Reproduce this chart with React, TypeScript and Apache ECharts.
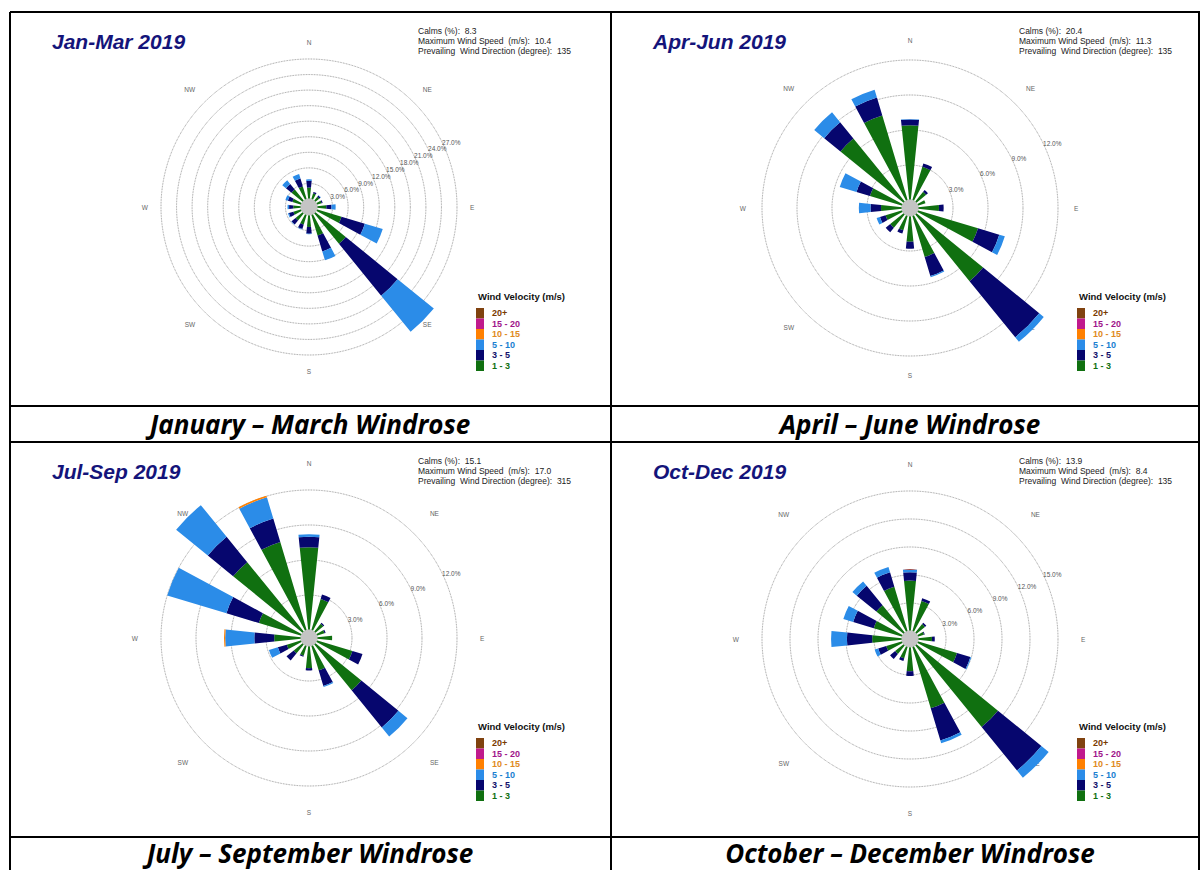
import React, { useEffect, useRef } from 'react';
import * as echarts from 'echarts';

// ---------- data ----------
const directions = ['N', 'NNE', 'NE', 'ENE', 'E', 'ESE', 'SE', 'SSE', 'S', 'SSW', 'SW', 'WSW', 'W', 'WNW', 'NW', 'NNW'];
const speedClasses = ['1 - 3', '3 - 5', '5 - 10', '10 - 15', '15 - 20', '20+'];
const legendOrder = ['20+', '15 - 20', '10 - 15', '5 - 10', '3 - 5', '1 - 3'];

const quarterTitles = ['Jan-Mar 2019', 'Apr-Jun 2019', 'Jul-Sep 2019', 'Oct-Dec 2019'];
const captions = ['January – March Windrose', 'April – June Windrose', 'July – September Windrose', 'October – December Windrose'];
const calms = [8.3, 20.4, 15.1, 13.9];
const maxWindSpeed = ['10.4', '11.3', '17.0', '8.4'];
const prevailingDir = [135, 135, 315, 135];
const ringMax = [27, 12, 12, 15];
const ringStep = 3;

// Jan-Mar 2019 (% frequency per direction)
const q1_1_3 = [2.2, 1.2, 1.0, 1.0, 1.8, 5.0, 7.6, 4.2, 2.3, 2.0, 1.8, 1.6, 1.5, 1.8, 2.8, 2.6];
const q1_3_5 = [1.3, 0.3, 0.3, 0.2, 1.0, 4.7, 12.9, 3.2, 1.3, 0.9, 1.0, 0.9, 0.8, 0.9, 1.4, 1.6];
const q1_5_10 = [0.3, 0, 0.1, 0, 0.8, 3.6, 9.0, 1.8, 0.1, 0.1, 0.1, 0.2, 0.3, 0.5, 0.9, 0.9];
const q1_10_15 = [0, 0, 0, 0, 0, 0, 0, 0, 0, 0, 0, 0, 0, 0, 0, 0];
const q1_15_20 = [0, 0, 0, 0, 0, 0, 0, 0, 0, 0, 0, 0, 0, 0, 0, 0];
const q1_20p = [0, 0, 0, 0, 0, 0, 0, 0, 0, 0, 0, 0, 0, 0, 0, 0];

// Apr-Jun 2019
const q2_1_3 = [6.4, 3.0, 1.1, 0.7, 1.8, 5.4, 7.4, 3.7, 2.2, 1.3, 1.5, 1.5, 1.8, 2.9, 7.0, 7.6];
const q2_3_5 = [0.5, 0.3, 0.2, 0, 0.4, 1.9, 6.2, 1.7, 0.6, 0.3, 0.5, 0.5, 0.9, 1.2, 1.8, 1.6];
const q2_5_10 = [0.05, 0, 0, 0, 0, 0.5, 0.5, 0.1, 0, 0, 0, 0.3, 1.0, 1.5, 1.1, 0.7];
const q2_10_15 = [0, 0, 0, 0, 0, 0, 0, 0, 0, 0, 0, 0, 0, 0, 0, 0];
const q2_15_20 = [0, 0, 0, 0, 0, 0, 0, 0, 0, 0, 0, 0, 0, 0, 0, 0];
const q2_20p = [0, 0, 0, 0, 0, 0, 0, 0, 0, 0, 0, 0, 0, 0, 0, 0];

// Jul-Sep 2019
const q3_1_3 = [7.1, 2.8, 0.9, 0.7, 1.3, 3.2, 5.1, 2.2, 1.9, 0.9, 1.0, 1.3, 2.3, 3.8, 7.7, 7.9];
const q3_3_5 = [0.9, 0.4, 0.1, 0.1, 0, 0.9, 4.1, 1.4, 0.2, 0.1, 0.8, 0.8, 1.7, 2.9, 2.8, 2.1];
const q3_5_10 = [0.2, 0, 0, 0, 0, 0, 1.0, 0.1, 0, 0, 0, 0.8, 2.5, 5.3, 3.5, 1.9];
const q3_10_15 = [0, 0, 0, 0, 0, 0, 0, 0, 0, 0, 0, 0, 0.1, 0, 0, 0.15];
const q3_15_20 = [0, 0, 0, 0, 0, 0, 0, 0, 0, 0, 0, 0, 0, 0, 0, 0];
const q3_20p = [0, 0, 0, 0, 0, 0, 0, 0, 0, 0, 0, 0, 0, 0, 0, 0];

// Oct-Dec 2019
const q4_1_3 = [5.4, 3.4, 1.2, 0.7, 1.5, 4.4, 11.3, 6.9, 2.6, 1.3, 1.2, 1.8, 3.2, 3.2, 3.8, 5.0];
const q4_3_5 = [0.9, 0.3, 0.2, 0.1, 0.3, 1.5, 6.0, 3.6, 0.5, 0.3, 0.7, 0.9, 2.7, 2.3, 2.7, 1.6];
const q4_5_10 = [0.3, 0, 0, 0, 0, 0.1, 1.0, 0.3, 0, 0, 0, 0.4, 1.7, 1.1, 0.6, 0.6];
const q4_10_15 = [0, 0, 0, 0, 0, 0, 0, 0, 0, 0, 0, 0, 0, 0, 0, 0];
const q4_15_20 = [0, 0, 0, 0, 0, 0, 0, 0, 0, 0, 0, 0, 0, 0, 0, 0];
const q4_20p = [0, 0, 0, 0, 0, 0, 0, 0, 0, 0, 0, 0, 0, 0, 0, 0];

const quarterData = [
  [q1_1_3, q1_3_5, q1_5_10, q1_10_15, q1_15_20, q1_20p],
  [q2_1_3, q2_3_5, q2_5_10, q2_10_15, q2_15_20, q2_20p],
  [q3_1_3, q3_3_5, q3_5_10, q3_10_15, q3_15_20, q3_20p],
  [q4_1_3, q4_3_5, q4_5_10, q4_10_15, q4_15_20, q4_20p],
];

// ---------- styling / layout ----------
const speedColors = ['#107010', '#06066e', '#2b8ce8', '#ff8000', '#c01a8c', '#80420f'];
const legendTextColors = ['#7a3a00', '#a0148a', '#e08a20', '#1a7fd0', '#10106a', '#107010'];
const centers = [[309, 207], [910, 208], [309, 638], [910, 639]];
const cellOrigins = [[10, 12], [611, 12], [10, 442], [611, 442]];
const calmR = 8;
const ringOuterR = 148;
const dataExtent = 4 / 3;
const dirLabelR = [158, 161, 168, 168];
const FONT = '"Liberation Sans", Arial, sans-serif';

function buildOption() {
  const polar: any[] = [];
  const angleAxis: any[] = [];
  const radiusAxis: any[] = [];
  const series: any[] = [];
  const legend: any[] = [];
  const graphic: any[] = [];

  centers.forEach((c, i) => {
    const base = i * 3;
    // data polar
    polar.push({ center: c, radius: [calmR, calmR + (ringOuterR - calmR) * dataExtent] });
    angleAxis.push({ polarIndex: base, type: 'category', data: directions, startAngle: 101.25, show: false });
    radiusAxis.push({ polarIndex: base, type: 'value', min: 0, max: ringMax[i] * dataExtent, show: false });
    // ring polar
    polar.push({ center: c, radius: [calmR, ringOuterR] });
    angleAxis.push({ polarIndex: base + 1, type: 'value', min: 0, max: 360, startAngle: 26, show: false });
    radiusAxis.push({
      polarIndex: base + 1, type: 'value', min: 0, max: ringMax[i], interval: ringStep,
      axisLine: { show: false }, axisTick: { show: false },
      axisLabel: {
        show: true, margin: 0, fontSize: 6.5, color: '#555', fontFamily: FONT,
        align: 'left', verticalAlign: 'middle',
        formatter: (v: number) => (v === 0 ? '' : v.toFixed(1) + '%'),
      },
      splitLine: { show: true, lineStyle: { type: 'dotted', color: '#777', width: 0.8 } },
      z: 1,
    });
    // direction label polar
    polar.push({ center: c, radius: dirLabelR[i] });
    angleAxis.push({
      polarIndex: base + 2, type: 'category', data: directions, startAngle: 101.25,
      axisLine: { show: false }, axisTick: { show: false }, splitLine: { show: false },
      axisLabel: { interval: 1, fontSize: 6.5, color: '#666', margin: 3, fontFamily: FONT },
    });
    radiusAxis.push({ polarIndex: base + 2, type: 'value', show: false });

    quarterData[i].forEach((vals, k) => {
      series.push({
        type: 'bar', coordinateSystem: 'polar', polarIndex: base, stack: 'q' + i,
        name: speedClasses[k], data: vals, itemStyle: { color: speedColors[k] },
        barCategoryGap: '48%', silent: true, z: 3,
      });
    });
    series.push({
      type: 'pie', center: c, radius: [0, calmR + 0.5], silent: true, z: 6,
      data: [{ value: calms[i], name: 'Calms' }],
      label: { show: false }, labelLine: { show: false },
      itemStyle: { color: '#c4c4c4' },
    });

    const [ox, oy] = cellOrigins[i];
    legend.push({
      orient: 'vertical', left: ox + 466, top: oy + 296, padding: 0,
      itemWidth: 8, itemHeight: 10.5, itemGap: 0, icon: 'rect', selectedMode: false,
      data: legendOrder.map((n, k) => ({ name: n, textStyle: { color: legendTextColors[k] } })),
      textStyle: { fontSize: 9, fontWeight: 'bold', fontFamily: FONT, lineHeight: 10.5, padding: [0, 0, 0, 3] },
    });

    graphic.push(
      {
        type: 'text', x: ox + 42, y: oy + 29,
        style: { text: quarterTitles[i], fill: '#14147a', font: `italic bold 21px ${FONT}`, textVerticalAlign: 'middle' },
      },
      {
        type: 'text', x: ox + 408, y: oy + 14,
        style: {
          text: `Calms (%):  ${calms[i].toFixed(1)}\nMaximum Wind Speed  (m/s):  ${maxWindSpeed[i]}\nPrevailing  Wind Direction (degree):  ${prevailingDir[i]}`,
          fill: '#222', font: `8.5px ${FONT}`, lineHeight: 9.8,
        },
      },
      {
        type: 'text', x: ox + 468, y: oy + 284,
        style: { text: 'Wind Velocity (m/s)', fill: '#111', font: `bold 9.5px ${FONT}`, textVerticalAlign: 'middle' },
      },
    );
  });

  // captions
  const captionPos = [[310, 424], [910, 424], [310, 853], [910, 853]];
  captionPos.forEach((p, i) => {
    graphic.push({
      type: 'text', x: p[0], y: p[1],
      style: {
        text: captions[i], fill: '#000', font: 'italic bold 26px "Open Sans", Lato, sans-serif',
        lineHeight: 26, textAlign: 'center', textVerticalAlign: 'middle',
      },
    });
  });

  // table lines
  const lineStyle = { stroke: '#000', lineWidth: 2 };
  const hLines = [12, 406, 442, 837];
  hLines.forEach((y) => graphic.push({ type: 'line', shape: { x1: 10, y1: y, x2: 1200, y2: y }, style: lineStyle }));
  [10, 611, 1199].forEach((x) => graphic.push({ type: 'line', shape: { x1: x, y1: 12, x2: x, y2: 870 }, style: lineStyle }));

  return {
    animation: false,
    backgroundColor: '#fff',
    textStyle: { fontFamily: FONT },
    polar, angleAxis, radiusAxis, series, legend, graphic,
  };
}

export default function App() {
  const ref = useRef<HTMLDivElement>(null);
  useEffect(() => {
    const chart = echarts.init(ref.current!, null, { renderer: 'svg' });
    chart.setOption(buildOption());
    return () => chart.dispose();
  }, []);
  return <div ref={ref} style={{ position: 'absolute', left: 0, top: 0, width: 1200, height: 870, background: '#fff' }} />;
}
